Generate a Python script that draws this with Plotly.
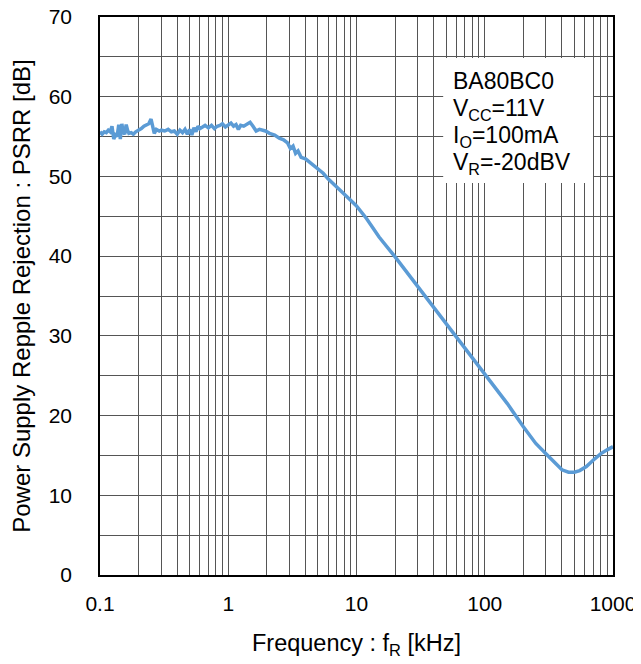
import plotly.graph_objects as go

freq_khz = [0.100, 0.104, 0.108, 0.112, 0.116, 0.120, 0.124, 0.128, 0.132, 0.136,
            0.140, 0.144, 0.148, 0.152, 0.156, 0.160, 0.164, 0.168, 0.175, 0.182,
            0.190, 0.200, 0.210, 0.220, 0.230, 0.240, 0.250, 0.258, 0.265, 0.275,
            0.29, 0.30, 0.32, 0.34, 0.36, 0.38, 0.40, 0.42, 0.44, 0.46,
            0.48, 0.50, 0.52, 0.54, 0.56, 0.58, 0.60, 0.63, 0.66, 0.70,
            0.74, 0.78, 0.82, 0.86, 0.90, 0.95, 1.00, 1.05, 1.10, 1.15,
            1.20, 1.25, 1.32, 1.40, 1.48, 1.56, 1.65, 1.75, 1.85, 1.95,
            2.1, 2.3, 2.5, 2.7, 2.9, 3.05, 3.2, 3.35, 3.5, 3.7,
            4.0, 4.5, 5.0, 5.5, 6.0, 7.0, 8.0, 9.0, 10, 12,
            15, 20, 30, 50, 70, 100, 150, 200, 250, 300,
            350, 400, 450, 500, 550, 620, 700, 800, 900, 1000]
psrr_db = [55.6, 55.3, 55.6, 55.5, 55.8, 55.6, 56.3, 54.7, 55.2, 55.0,
           56.5, 54.7, 56.6, 55.5, 55.3, 56.5, 55.8, 55.4, 55.5, 55.3,
           55.6, 55.8, 56.0, 56.3, 56.4, 56.6, 57.2, 56.2, 55.4, 55.9,
           55.7, 55.8, 55.7, 55.9, 55.6, 55.7, 55.3, 55.8, 55.5, 55.9,
           55.3, 55.9, 55.2, 56.1, 55.6, 56.3, 56.0, 56.2, 56.4, 56.1,
           56.4, 56.0, 56.3, 56.4, 56.6, 56.2, 56.4, 56.7, 56.3, 56.5,
           55.9, 56.4, 56.3, 56.6, 56.8, 56.3, 55.7, 55.9, 55.8, 55.7,
           55.4, 55.2, 54.8, 54.6, 54.2, 53.5, 53.8, 52.9, 53.2, 52.4,
           52.2, 51.5, 51.0, 50.4, 49.7, 48.6, 47.8, 47.0, 46.3, 44.7,
           42.4, 39.9, 36.2, 31.5, 28.3, 25.2, 21.5, 18.6, 16.5, 15.2,
           14.1, 13.2, 12.9, 12.9, 13.1, 13.6, 14.4, 15.2, 15.7, 16.1]

x_tick_vals = [0.1, 1, 10, 100, 1000]
x_tick_text = ["0.1", "1", "10", "100", "1000"]
y_tick_vals = [0, 10, 20, 30, 40, 50, 60, 70]

note_lines = ["BA80BC0", "V<sub>CC</sub>=11V", "I<sub>O</sub>=100mA", "V<sub>R</sub>=-20dBV"]
note_y = [0.8860, 0.8350, 0.7850, 0.7380]

FONT = "Liberation Sans, Arial, sans-serif"
GRID = "#555555"

fig = go.Figure()
fig.add_trace(go.Scatter(x=freq_khz, y=psrr_db, mode="lines",
                         line=dict(color="#5B9BD5", width=3.5), showlegend=False))

fig.update_layout(
    width=633, height=656,
    margin=dict(l=92, r=28, t=9, b=89),
    paper_bgcolor="white", plot_bgcolor="white",
    font=dict(family=FONT, size=20, color="black"),
    xaxis=dict(type="log", range=[-1, 3], tickvals=x_tick_vals, ticktext=x_tick_text,
               showgrid=True, gridcolor=GRID, gridwidth=1,
               minor=dict(dtick="D1", showgrid=True, gridcolor=GRID, gridwidth=1, ticks=""),
               showline=True, linecolor="black", linewidth=1.5, mirror=True,
               ticks="", ticklabelstandoff=9, tickfont=dict(size=21), automargin=False,
               ticklabeloverflow="allow",
               title=dict(text="Frequency : f<sub>R</sub> [kHz]", font=dict(size=23.5), standoff=21),
               zeroline=False),
    yaxis=dict(range=[0, 70], tickvals=y_tick_vals,
               showgrid=True, gridcolor=GRID, gridwidth=1,
               minor=dict(dtick=5, showgrid=True, gridcolor=GRID, gridwidth=1, ticks=""),
               showline=True, linecolor="black", linewidth=1.5, mirror=True,
               ticks="", ticklabelstandoff=22, tickfont=dict(size=21), automargin=False,
               ticklabeloverflow="allow",
               title=dict(text="Power Supply Repple Rejection : PSRR [dB]", font=dict(size=24), standoff=12),
               zeroline=False),
)

fig.add_shape(type="rect", xref="paper", yref="paper",
              x0=0.669, x1=0.961, y0=0.7025, y1=0.9265,
              fillcolor="white", line=dict(width=0), layer="above")
for line_text, yy in zip(note_lines, note_y):
    fig.add_annotation(xref="paper", yref="paper", x=0.6852, y=yy,
                       xanchor="left", yanchor="middle", align="left", showarrow=False,
                       borderpad=0, text=line_text, font=dict(size=23, family=FONT))

fig.write_html("out.html")
